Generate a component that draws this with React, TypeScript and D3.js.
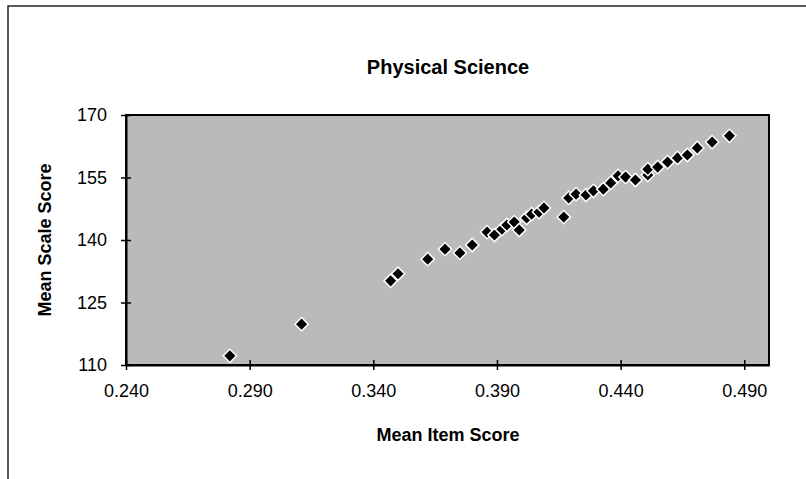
import * as d3 from "d3";
import { useEffect, useRef } from "react";

// mean item score (x) and mean scale score (y)
const itemScores = [
  0.282, 0.311, 0.347, 0.350, 0.362, 0.369, 0.375, 0.380, 0.386, 0.389,
  0.392, 0.394, 0.397, 0.399, 0.402, 0.404, 0.407, 0.409, 0.417, 0.419,
  0.422, 0.426, 0.429, 0.433, 0.436, 0.439, 0.442, 0.446, 0.451, 0.451,
  0.455, 0.459, 0.463, 0.467, 0.471, 0.477, 0.484,
];
const scaleScores = [
  112.2, 119.8, 130.2, 131.9, 135.4, 137.8, 136.9, 138.8, 141.9, 141.2,
  142.6, 143.6, 144.3, 142.4, 145.3, 146.2, 146.7, 147.7, 145.5, 150.1,
  151.0, 150.8, 151.8, 152.2, 153.7, 155.4, 155.1, 154.4, 155.6, 157.0,
  157.5, 158.7, 159.7, 160.4, 162.1, 163.5, 165.0,
];
const xTicks = [0.24, 0.29, 0.34, 0.39, 0.44, 0.49];
const yTicks = [110, 125, 140, 155, 170];

const title = "Physical Science";
const xTitle = "Mean Item Score";
const yTitle = "Mean Scale Score";

const W = 806;
const H = 479;
const font = "'Liberation Sans', Arial, sans-serif";

export default function App() {
  const ref = useRef<SVGSVGElement>(null);

  useEffect(() => {
    const svg = d3.select(ref.current);
    svg.selectAll("*").remove();

    const margin = { top: 115, right: 37, bottom: 114, left: 126 };
    const x = d3.scaleLinear().domain([0.24, 0.5]).range([margin.left, W - margin.right]);
    const y = d3.scaleLinear().domain([110, 170]).range([H - margin.bottom, margin.top]);

    // outer frame (left + top edges visible in the scan)
    svg.append("path")
      .attr("d", `M8,${H} L8,6 L${W},6`)
      .attr("fill", "none")
      .attr("stroke", "#222")
      .attr("stroke-width", 1.5);

    // plot area
    svg.append("rect")
      .attr("x", x(0.24))
      .attr("y", y(170))
      .attr("width", x(0.5) - x(0.24))
      .attr("height", y(110) - y(170))
      .attr("fill", "#bababa")
      .attr("stroke", "#000")
      .attr("stroke-width", 2);

    // x axis
    const xAxis = svg.append("g")
      .attr("transform", `translate(0,${y(110)})`)
      .call(d3.axisBottom(x).tickValues(xTicks).tickFormat(d3.format(".3f")).tickSizeInner(5).tickSizeOuter(0).tickPadding(14));
    xAxis.selectAll(".tick line").attr("y1", -5).attr("stroke-width", 1.5);
    xAxis.select(".domain").attr("stroke-width", 2);

    // y axis
    const yAxis = svg.append("g")
      .attr("transform", `translate(${x(0.24)},0)`)
      .call(d3.axisLeft(y).tickValues(yTicks).tickSizeInner(5).tickSizeOuter(0).tickPadding(14));
    yAxis.selectAll(".tick line").attr("x1", 5).attr("stroke-width", 1.5);
    yAxis.select(".domain").attr("stroke-width", 2);

    svg.selectAll(".tick text")
      .attr("font-family", font)
      .attr("font-size", 18)
      .attr("fill", "#000");

    // points
    const diamond = d3.symbol(d3.symbolSquare, 88)();
    svg.append("g")
      .selectAll("path")
      .data(itemScores.map((v, i) => [v, scaleScores[i]]))
      .join("path")
      .attr("d", diamond)
      .attr("transform", d => `translate(${x(d[0])},${y(d[1])}) rotate(45)`)
      .attr("fill", "#000")
      .attr("stroke", "#fff")
      .attr("stroke-width", 1.5);

    // titles
    svg.append("text")
      .attr("x", 448)
      .attr("y", 74)
      .attr("text-anchor", "middle")
      .attr("font-family", font)
      .attr("font-weight", "bold")
      .attr("font-size", 20)
      .text(title);

    svg.append("text")
      .attr("x", 448)
      .attr("y", 441)
      .attr("text-anchor", "middle")
      .attr("font-family", font)
      .attr("font-weight", "bold")
      .attr("font-size", 18)
      .text(xTitle);

    svg.append("text")
      .attr("transform", `translate(51,${(y(110) + y(170)) / 2}) rotate(-90)`)
      .attr("text-anchor", "middle")
      .attr("font-family", font)
      .attr("font-weight", "bold")
      .attr("font-size", 18)
      .text(yTitle);
  }, []);

  return (
    <svg
      ref={ref}
      width={W}
      height={H}
      style={{ position: "absolute", left: 0, top: 0, background: "#fff" }}
    />
  );
}
